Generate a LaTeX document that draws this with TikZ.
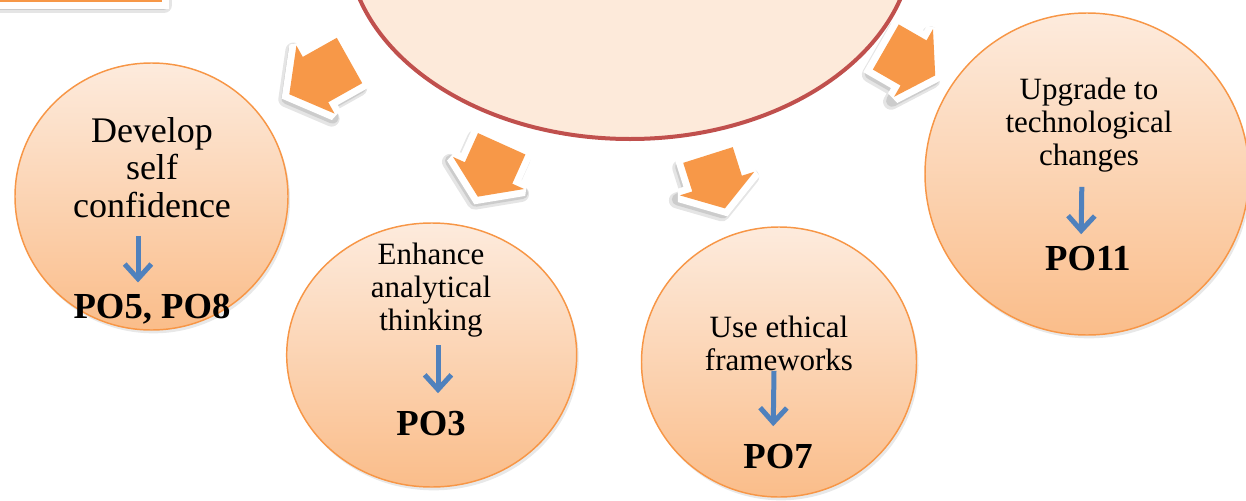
\documentclass[tikz,border=0pt]{standalone}
\usepackage{fontspec}
\setmainfont{Liberation Serif}
\usetikzlibrary{shadows,arrows.meta}

\definecolor{peachtop}{RGB}{253,235,221}
\definecolor{peachbot}{RGB}{250,189,138}
\definecolor{ringorange}{RGB}{247,150,70}
\definecolor{blockorange}{RGB}{247,152,72}
\definecolor{ovalfill}{RGB}{253,234,218}
\definecolor{ovalred}{RGB}{192,80,77}
\definecolor{poblue}{RGB}{79,129,189}

\tikzset{every picture/.style={line width=0.75pt},
  bubble/.style={draw=ringorange, line width=1.1pt, top color=peachtop, bottom color=peachbot,
    drop shadow={opacity=0.18, shadow xshift=1.5pt, shadow yshift=-2.5pt}},
  blockshadow/.style={draw=black!10, fill=black!10, line width=12pt, line join=round},
  blockshade/.style={draw=black!20, fill=black!20, line width=9pt, line join=round},
  blockrim/.style={draw=white, fill=white, line width=10.5pt, line join=miter, miter limit=2.5},
  blockarrow/.style={fill=blockorange},
  desc/.style={align=center, inner sep=0pt, anchor=base},
  poarrow/.style={draw=poblue, line width=3.75pt, -{Straight Barb[length=11pt,width=20pt]}},
  potext/.style={font=\fontsize{27.5}{30}\selectfont\bfseries, inner sep=0pt, anchor=base}
}

% block arrow: x, y of the back edge, angle, shaft length, head length
\newcommand{\orangearrow}[5]{%
  \path[blockshadow, shift={(#1-3,#2+5)}, rotate=#3] (0,-26) -- (#4,-26) -- (#4,-39) -- (#4+#5,0) -- (#4,39) -- (#4,26) -- (0,26) -- cycle ;
  \path[blockshade, shift={(#1-2,#2+4)}, rotate=#3] (0,-26) -- (#4,-26) -- (#4,-39) -- (#4+#5,0) -- (#4,39) -- (#4,26) -- (0,26) -- cycle ;
  \path[blockrim, shift={(#1,#2)}, rotate=#3] (0,-26) -- (#4,-26) -- (#4,-39) -- (#4+#5,0) -- (#4,39) -- (#4,26) -- (0,26) -- cycle ;
  \path[blockarrow, shift={(#1,#2)}, rotate=#3] (0,-26) -- (#4,-26) -- (#4,-39) -- (#4+#5,0) -- (#4,39) -- (#4,26) -- (0,26) -- cycle ;
}

\begin{document}
\begin{tikzpicture}[x=0.75pt,y=0.75pt,yscale=-1,xscale=1]
\useasboundingbox (0,0) rectangle (1246,500);
\clip (0,0) rectangle (1246,500);

%Shape: Rectangle (top left, cut off)
\path[blockshadow] (-40,-60) rectangle (164,5);
\path[blockshade] (-40,-60) rectangle (163,4);
\path[blockrim] (-40,-60) rectangle (162,2);
\path[blockarrow] (-40,-60) rectangle (162,2);

%Shape: Ellipse (top, cut off)
\draw[draw=ovalred, fill=ovalfill, line width=3pt] (630,-60) ellipse [x radius=283, y radius=199];

%Shape: Block Arrows
\orangearrow{349.5}{60.5}{150.7}{39}{30}
\orangearrow{501.7}{143.8}{114.3}{32}{26}
\orangearrow{708}{155}{72.4}{30}{26}
\orangearrow{885.8}{47}{29.9}{32}{25}

%Shape: Circles
\path[bubble] (151.5,196.5) ellipse [x radius=136.5, y radius=133.5];
\path[bubble] (431.7,355) ellipse [x radius=145, y radius=132];
\path[bubble] (779,362) ellipse [x radius=137.5, y radius=135];
\path[bubble] (1087,174) ellipse [x radius=162, y radius=161];

% Text Node
\node[desc, font=\fontsize{27}{28}\selectfont] (confidence) at (152,217) {Develop\\self\\confidence};
\node[desc, font=\fontsize{23.25}{24.4}\selectfont] (analytical) at (431,330) {Enhance\\analytical\\thinking};
\node[desc, font=\fontsize{23.25}{24.4}\selectfont] (ethical) at (779,370) {Use ethical\\frameworks};
\node[desc, font=\fontsize{23.25}{24.4}\selectfont] (upgrade) at (1089,165) {Upgrade to\\technological\\changes};

\node[potext] (poA) at (152,318) {PO5, PO8};
\node[potext] (poB) at (431,435) {PO3};
\node[potext] (poC) at (778,468) {PO7};
\node[potext] (poD) at (1088,270) {PO11};

%Straight Lines
\draw[poarrow, shorten <=13.5pt, shorten >=8pt] ([xshift=-10.5pt]confidence.south) -- ([xshift=-10.5pt]poA.north);
\draw[poarrow, shorten <=6pt, shorten >=12.75pt] ([xshift=5.25pt]analytical.south) -- ([xshift=5.25pt]poB.north);
\draw[poarrow, shorten <=0pt, shorten >=12.75pt] ([xshift=-3.75pt]ethical.south) -- ([xshift=-3.75pt]poC.north);
\draw[poarrow, shorten <=11pt, shorten >=8.25pt] ([xshift=-5.25pt]upgrade.south) -- ([xshift=-5.25pt]poD.north);

\end{tikzpicture}
\end{document}
